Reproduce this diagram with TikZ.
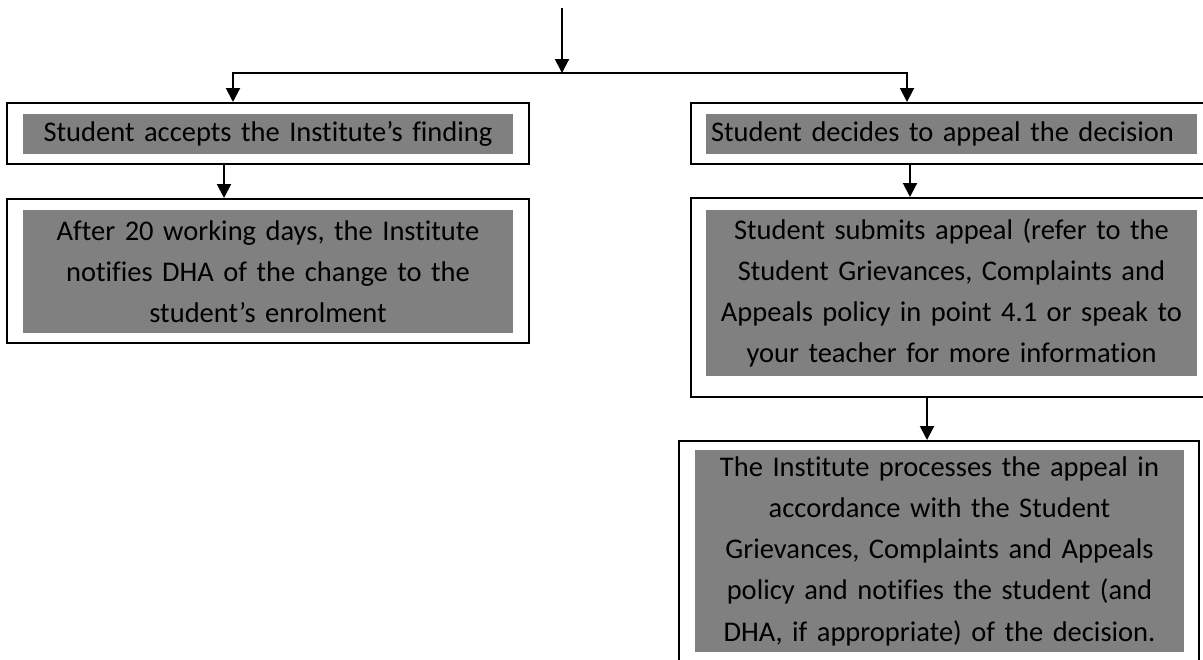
\documentclass[tikz,border=0pt]{standalone}
\usepackage{fontspec}
\setmainfont{Carlito}[Ligatures={NoCommon}]
\usetikzlibrary{arrows.meta}

\begin{document}
\begin{tikzpicture}[x=0.5pt,y=-0.5pt,
    frame/.style={draw,line width=1pt,inner sep=0pt},
    shade/.style={fill=gray,inner sep=0pt,align=center,
        font=\fontsize{14.25}{20.6}\selectfont},
    arr/.style={line width=1pt,-{Triangle[length=7pt,width=7pt]}}]

        % Rahmen des Bildes
        \useasboundingbox (0,0) rectangle (1203,659);
        \clip (0,0) rectangle (1203,659);

        % Linke Spalte
        \node[frame,minimum width=261pt,minimum height=30.5pt] (accL) at (268,133.5) {};
        \node[shade,text width=245pt,minimum height=20pt] (accT) at (268,134)
            {Student accepts the Institute’s finding};

        \node[frame,minimum width=261pt,minimum height=72pt] (notifL) at (268,271) {};
        \node[shade,text width=245pt,minimum height=61.5pt] (notifT) at (268,271.5)
            {After 20 working days, the Institute\\ notifies DHA of the change to the\\ student’s enrolment};

        % Rechte Spalte
        \node[frame,minimum width=262pt,minimum height=30.5pt] (appR) at (953,133.5) {};
        \node[shade,text width=240.5pt,inner xsep=2.5pt,align=left,minimum height=20pt] (appT) at (951.5,134)
            {Student decides to appeal the decision};

        \node[frame,minimum width=262pt,minimum height=99.5pt] (subR) at (953,297.5) {};
        \node[shade,text width=245.5pt,minimum height=83pt] (subT) at (951.5,293)
            {Student submits appeal (refer to the\\ Student Grievances, Complaints and\\ Appeals policy in point 4.1 or speak to\\ your teacher for more information};

        \node[frame,minimum width=260pt,minimum height=119.5pt] (procR) at (939,560.5) {};
        \node[shade,text width=244.5pt,minimum height=101pt] (procT) at (939.5,551)
            {The Institute processes the appeal in\\ accordance with the Student\\ Grievances, Complaints and Appeals\\ policy and notifies the student (and\\ DHA, if appropriate) of the decision.};

        % Pfeile
        \coordinate (start) at (562,8);
        \coordinate (split) at (562,73);
        \draw[arr] (start) -- (split);
        \draw[arr] (split) -| (233,0 |- accL.north);
        \draw[arr] (split) -| (907,0 |- appR.north);
        \draw[arr] (224,0 |- accL.south) -- (224,0 |- notifL.north);
        \draw[arr] (910,0 |- appR.south) -- (910,0 |- subR.north);
        \draw[arr] (927,0 |- subR.south) -- (927,0 |- procR.north);

\end{tikzpicture}
\end{document}
